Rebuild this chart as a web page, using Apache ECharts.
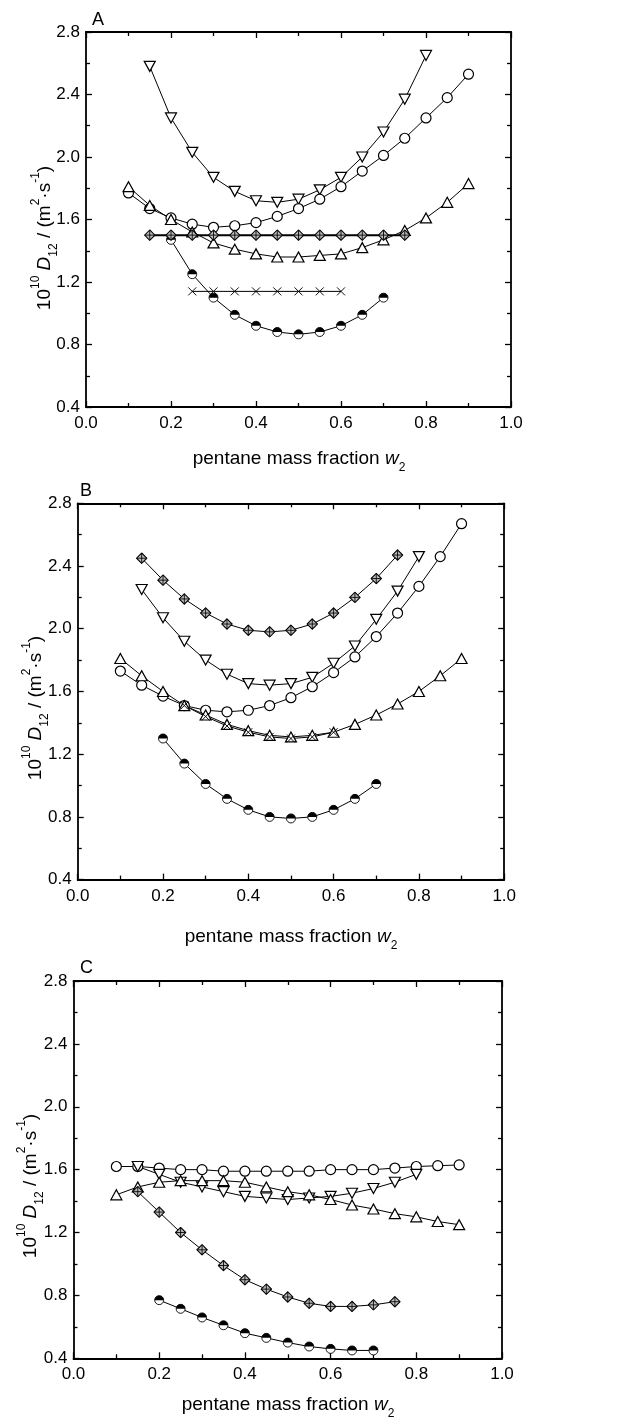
<!DOCTYPE html>
<html>
<head>
<meta charset="utf-8">
<script src="https://cdn.jsdelivr.net/npm/echarts@6/dist/echarts.min.js"></script>
<style>
html,body{margin:0;padding:0;background:#fff;}
#chart{width:632px;height:1425px;}
</style>
</head>
<body>
<div id="chart"></div>
<script>
// ---- composition grids (pentane mass fraction w2) ----
const w10_90 = [0.10,0.15,0.20,0.25,0.30,0.35,0.40,0.45,0.50,0.55,0.60,0.65,0.70,0.75,0.80,0.85,0.90];
const w15_80 = [0.15,0.20,0.25,0.30,0.35,0.40,0.45,0.50,0.55,0.60,0.65,0.70,0.75,0.80];
const w15_75 = [0.15,0.20,0.25,0.30,0.35,0.40,0.45,0.50,0.55,0.60,0.65,0.70,0.75];
const w20_70 = [0.20,0.25,0.30,0.35,0.40,0.45,0.50,0.55,0.60,0.65,0.70];
const w25_60 = [0.25,0.30,0.35,0.40,0.45,0.50,0.55,0.60];

// ---- panel A ----
const A_down    = [2.58,2.25,2.03,1.87,1.78,1.72,1.71,1.73,1.79,1.87,2.00,2.16,2.37,2.65];
const A_circle  = [1.77,1.67,1.61,1.57,1.55,1.56,1.58,1.62,1.67,1.73,1.81,1.91,2.01,2.12,2.25,2.38,2.53];
const A_up      = [1.81,1.69,1.60,1.52,1.45,1.41,1.38,1.36,1.36,1.37,1.38,1.42,1.47,1.53,1.61,1.71,1.83];
const A_diamond = [1.50,1.50,1.50,1.50,1.50,1.50,1.50,1.50,1.50,1.50,1.50,1.50,1.50];
const A_cross   = [1.14,1.14,1.14,1.14,1.14,1.14,1.14,1.14];
const A_half    = [1.47,1.25,1.10,0.99,0.92,0.88,0.865,0.88,0.92,0.99,1.10];

// ---- panel B ----
const B_diamond = [2.45,2.31,2.19,2.10,2.03,1.99,1.98,1.99,2.03,2.10,2.20,2.32,2.47];
const B_down    = [2.25,2.07,1.92,1.80,1.71,1.65,1.64,1.65,1.69,1.78,1.89,2.06,2.24,2.46];
const B_circle  = [1.73,1.64,1.57,1.51,1.48,1.47,1.48,1.51,1.56,1.63,1.72,1.82,1.95,2.10,2.27,2.46,2.67];
const B_up      = [1.81,1.70,1.60,1.51,1.45,1.39,1.35,1.32,1.31,1.32,1.34,1.39,1.45,1.52,1.60,1.70,1.81];
const B_cross   = [1.51,1.44,1.38,1.34,1.31,1.30,1.31,1.34];
const B_half    = [1.30,1.14,1.01,0.915,0.845,0.80,0.79,0.80,0.845,0.915,1.01];

// ---- panel C ----
const C_circle  = [1.62,1.62,1.61,1.60,1.60,1.59,1.59,1.59,1.59,1.59,1.60,1.60,1.60,1.61,1.62,1.625,1.63];
const C_down    = [1.62,1.57,1.52,1.49,1.46,1.43,1.42,1.41,1.42,1.43,1.45,1.48,1.52,1.57];
const C_up      = [1.44,1.49,1.52,1.53,1.53,1.53,1.52,1.49,1.46,1.44,1.41,1.375,1.35,1.32,1.30,1.27,1.25];
const C_diamond = [1.46,1.33,1.20,1.09,0.99,0.90,0.84,0.79,0.75,0.73,0.73,0.74,0.76];
const C_half    = [0.77,0.715,0.66,0.61,0.56,0.53,0.50,0.475,0.46,0.45,0.45];

// ---- axis ticks / text ----
const xMin = 0, xMax = 1, xStep = 0.2;
const yMin = 0.4, yMax = 2.8, yStep = 0.4;
const panelLetters = ['A','B','C'];

const FONT = '"Liberation Sans", Arial, Helvetica, sans-serif';

function svgUri(svg){ return 'image://data:image/svg+xml;charset=utf-8,' + encodeURIComponent(svg); }
const SYM_HALF = svgUri('<svg xmlns="http://www.w3.org/2000/svg" width="22" height="22" viewBox="0 0 22 22"><circle cx="11" cy="11" r="9" fill="#fff" stroke="#000" stroke-width="1.8"/><path d="M2,11 A9,9 0 0 1 20,11 Z" fill="#000"/></svg>');
const SYM_DIAM = svgUri('<svg xmlns="http://www.w3.org/2000/svg" width="22" height="22" viewBox="0 0 22 22"><polygon points="11,1.5 20.5,11 11,20.5 1.5,11" fill="#bdbdbd" stroke="#000" stroke-width="2"/><line x1="11" y1="2.5" x2="11" y2="19.5" stroke="#000" stroke-width="1.6"/><line x1="2.5" y1="11" x2="19.5" y2="11" stroke="#000" stroke-width="1.6"/></svg>');
const SYM_CROSS = svgUri('<svg xmlns="http://www.w3.org/2000/svg" width="22" height="22" viewBox="0 0 22 22"><path d="M3,3 L19,19 M19,3 L3,19" stroke="#000" stroke-width="1.9" fill="none"/></svg>');

// grids (pixel layout)
const grids = [
  {left:86,  top:32,    width:425,   height:375},
  {left:77.7,top:503.3, width:426.5, height:376.3},
  {left:73.5,top:981,   width:428.5, height:377.3}
];

const chart = echarts.init(document.getElementById('chart'), null, {renderer:'canvas'});

const xAxes = [], yAxes = [];
grids.forEach((g, i) => {
  const common = {
    gridIndex: i, type:'value', min:xMin, max:xMax, interval:xStep,
    axisLine:{show:true, onZero:false, lineStyle:{color:'#000', width:1.8}},
    axisTick:{show:true, inside:true, length:6, lineStyle:{color:'#000', width:1.3}},
    minorTick:{show:true, splitNumber:2, length:4, lineStyle:{color:'#000', width:1.3}},
    splitLine:{show:false}
  };
  xAxes.push(Object.assign({}, common, {position:'bottom',
    axisLabel:{show:true, margin:8, color:'#000', fontSize:17, fontFamily:FONT, formatter:v=>v.toFixed(1)}}));
  xAxes.push(Object.assign({}, common, {position:'top', axisLabel:{show:false}}));
  const ycommon = {
    gridIndex: i, type:'value', min:yMin, max:yMax, interval:yStep,
    axisLine:{show:true, onZero:false, lineStyle:{color:'#000', width:1.8}},
    axisTick:{show:true, inside:true, length:6, lineStyle:{color:'#000', width:1.3}},
    minorTick:{show:true, splitNumber:2, length:4, lineStyle:{color:'#000', width:1.3}},
    splitLine:{show:false}
  };
  yAxes.push(Object.assign({}, ycommon, {position:'left',
    axisLabel:{show:true, margin:6, color:'#000', fontSize:17, fontFamily:FONT, formatter:v=>v.toFixed(1)}}));
  yAxes.push(Object.assign({}, ycommon, {position:'right', axisLabel:{show:false}}));
});

function mk(panel, w, v, kind, lw){
  const s = {
    type:'line', xAxisIndex: panel*2, yAxisIndex: panel*2,
    data: w.map((x,i)=>[x, v[i]]),
    lineStyle:{color:'#000', width: lw || 1},
    showAllSymbol:true, animation:false, silent:true, z: 3
  };
  if (kind==='circle'){ s.symbol='circle'; s.symbolSize=10; s.itemStyle={color:'#fff', borderColor:'#000', borderWidth:1.2}; }
  else if (kind==='up'){ s.symbol='triangle'; s.symbolSize=[11,10]; s.itemStyle={color:'#fff', borderColor:'#000', borderWidth:1.2}; }
  else if (kind==='down'){ s.symbol='triangle'; s.symbolRotate=180; s.symbolSize=[11,10]; s.itemStyle={color:'#fff', borderColor:'#000', borderWidth:1.2}; }
  else if (kind==='half'){ s.symbol=SYM_HALF; s.symbolSize=11; s.itemStyle={color:'#000'}; }
  else if (kind==='diamond'){ s.symbol=SYM_DIAM; s.symbolSize=12; s.itemStyle={color:'#000'}; }
  else if (kind==='cross'){ s.symbol=SYM_CROSS; s.symbolSize=11; s.itemStyle={color:'#000'}; }
  return s;
}

const series = [
  mk(0, w15_80, A_down, 'down'),
  mk(0, w10_90, A_circle, 'circle'),
  mk(0, w10_90, A_up, 'up'),
  mk(0, w20_70, A_half, 'half'),
  mk(0, w15_75, A_diamond, 'diamond', 2),
  mk(0, w25_60, A_cross, 'cross'),

  mk(1, w15_75, B_diamond, 'diamond'),
  mk(1, w15_80, B_down, 'down'),
  mk(1, w10_90, B_circle, 'circle'),
  mk(1, w10_90, B_up, 'up'),
  mk(1, w25_60, B_cross, 'cross'),
  mk(1, w20_70, B_half, 'half'),

  mk(2, w10_90, C_circle, 'circle'),
  mk(2, w15_80, C_down, 'down'),
  mk(2, w10_90, C_up, 'up'),
  mk(2, w15_75, C_diamond, 'diamond'),
  mk(2, w20_70, C_half, 'half')
];

const richY = {
  n:{fontSize:19, fontFamily:FONT, fill:'#000', color:'#000', lineHeight:30},
  i:{fontSize:19, fontFamily:FONT, fontStyle:'italic', fill:'#000', color:'#000', lineHeight:30},
  sup:{fontSize:12, fontFamily:FONT, fill:'#000', color:'#000', verticalAlign:'top', lineHeight:15},
  sub:{fontSize:12, fontFamily:FONT, fill:'#000', color:'#000', verticalAlign:'bottom', lineHeight:15}
};
const yTitleText = '{n|10}{sup|10}{n| }{i|D}{sub|12}{n| / (m}{sup|2}{n|·s}{sup|-1}{n|)}';
const xTitleText = '{n|pentane mass fraction }{i|w}{sub|2}';

const graphic = [];
const yTitlePos = [[45,238],[36,708],[31,1186]];
const xTitlePos = [[299,459],[291,937],[288,1405]];
const letterPos = [[92,20],[80,491],[80,968]];
grids.forEach((g,i)=>{
  graphic.push({type:'text', x:yTitlePos[i][0], y:yTitlePos[i][1], rotation:Math.PI/2, silent:true,
    style:{text:yTitleText, rich:richY, x:0, y:0, align:'center', verticalAlign:'middle', textAlign:'center', textVerticalAlign:'middle', fill:'#000'}});
  graphic.push({type:'text', x:xTitlePos[i][0], y:xTitlePos[i][1], silent:true,
    style:{text:xTitleText, rich:richY, x:0, y:0, align:'center', verticalAlign:'middle', textAlign:'center', textVerticalAlign:'middle', fill:'#000'}});
  graphic.push({type:'text', x:letterPos[i][0], y:letterPos[i][1], silent:true,
    style:{text:panelLetters[i], x:0, y:0, fontSize:18, fontFamily:FONT, fill:'#000', align:'left', verticalAlign:'middle', textAlign:'left', textVerticalAlign:'middle'}});
});

chart.setOption({
  animation:false,
  backgroundColor:'#fff',
  grid: grids.map(g=>Object.assign({containLabel:false}, g)),
  xAxis: xAxes,
  yAxis: yAxes,
  series: series,
  graphic: graphic
});
</script>
</body>
</html>
